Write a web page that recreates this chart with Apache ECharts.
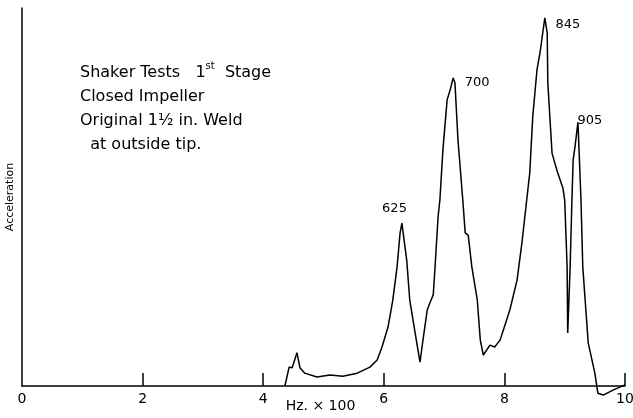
<!DOCTYPE html>
<html>
<head>
<meta charset="utf-8">
<script src="https://cdn.jsdelivr.net/npm/echarts@6/dist/echarts.min.js"></script>
<style>
  html, body { margin: 0; padding: 0; background: #fff; }
  #chart { width: 633px; height: 418px; }
</style>
</head>
<body>
<div id="chart"></div>
<script>
// frequency in Hz x 100
var freq = [4.36, 4.43, 4.48, 4.56, 4.61, 4.69, 4.89, 5.11, 5.32, 5.56, 5.77, 5.89, 5.97,
  6.07, 6.15, 6.22, 6.27, 6.30, 6.33, 6.38, 6.43, 6.52, 6.60, 6.65, 6.72, 6.77, 6.82, 6.85,
  6.90, 6.93, 6.98, 7.05, 7.10, 7.15, 7.18, 7.23, 7.31, 7.35, 7.40, 7.46, 7.55, 7.60, 7.65,
  7.76, 7.84, 7.93, 8.09, 8.21, 8.29, 8.37, 8.42, 8.47, 8.54, 8.59, 8.67, 8.71, 8.72, 8.79,
  8.87, 8.97, 9.00, 9.04, 9.05, 9.09, 9.12, 9.14, 9.17, 9.22, 9.27, 9.30, 9.39, 9.50, 9.55,
  9.64, 9.80, 10.0];
// acceleration, arbitrary units (0 = axis, 100 = top of axis)
var accel = [0, 5.0, 4.8, 8.8, 4.8, 3.4, 2.4, 2.9, 2.6, 3.4, 5.0, 6.9, 10.3,
  15.6, 22.8, 31.5, 40.5, 43.1, 43.1, 33.3, 22.8, 14.0, 6.3, 12.2, 20.1, 22.2, 24.1, 31.5,
  44.7, 49.2, 62.4, 75.7, 78.3, 81.5, 80.2, 65.1, 49.2, 40.5, 39.9, 31.5, 22.8, 12.2, 8.2,
  10.8, 10.3, 12.2, 20.1, 28.0, 37.8, 49.2, 56.3, 71.2, 83.6, 88.1, 97.4, 93.4, 80.2, 61.6,
  57.1, 52.4, 49.2, 31.5, 14.0, 31.5, 49.2, 59.8, 63.2, 69.8, 49.2, 31.5, 11.4, 3.4, -1.9,
  -2.4, -1.1, 0.3];
var peakNames = ['625', '700', '845', '905'];
var peakX = [6.31, 7.15, 8.67, 9.22];
var peakY = [43.1, 81.5, 97.4, 69.8];
var xTicks = [0, 2, 4, 6, 8, 10];
var noteLines = ['Shaker Tests   1{s|st}  Stage', 'Closed Impeller', 'Original 1½ in. Weld', '  at outside tip.'];

var font = '"DejaVu Sans", sans-serif';
var chart = echarts.init(document.getElementById('chart'));

var pts = freq.map(function (f, i) { return [f, accel[i]]; });
var peakLabelOffsets = [[-8, -14], [24, 5], [23, 7], [12, -2]];

var option = {
  backgroundColor: '#fff',
  animation: false,
  grid: { left: 22, right: 8, top: 8, bottom: 32, outerBoundsMode: 'none', containLabel: false },
  xAxis: {
    type: 'value',
    min: 0,
    max: 10,
    interval: 2,
    name: 'Hz. × 100',
    nameLocation: 'middle',
    nameGap: 13,
    nameMoveOverlap: false,
    nameTextStyle: { color: '#000', fontSize: 14, fontFamily: font, padding: [0, 6, 0, 0] },
    axisLine: { lineStyle: { color: '#000', width: 1.5 } },
    axisTick: {
      inside: true, length: 13, customValues: xTicks.slice(1),
      lineStyle: { color: '#000', width: 1.5 }
    },
    axisLabel: {
      color: '#000', fontSize: 14, fontFamily: font, margin: 6,
      formatter: function (v) { return xTicks.indexOf(v) >= 0 ? String(v) : ''; }
    },
    splitLine: { show: false }
  },
  yAxis: {
    type: 'value',
    min: 0,
    max: 100,
    name: 'Acceleration',
    nameLocation: 'middle',
    nameRotate: 90,
    nameGap: 6,
    nameMoveOverlap: false,
    nameTextStyle: { color: '#000', fontSize: 11, fontFamily: font },
    axisLine: { show: true, lineStyle: { color: '#000', width: 1.5 } },
    axisTick: { show: false },
    axisLabel: { show: false },
    splitLine: { show: false }
  },
  graphic: [{
    type: 'text',
    left: 80,
    top: 61,
    style: {
      text: noteLines.join('\n'),
      fill: '#000',
      font: '16px ' + font,
      lineHeight: 24,
      rich: { s: { fontSize: 10, verticalAlign: 'top', fill: '#000', fontFamily: font } }
    }
  }],
  series: [{
    type: 'line',
    data: pts,
    showSymbol: false,
    smooth: false,
    clip: false,
    lineStyle: { color: '#000', width: 1.5 },
    markPoint: {
      symbol: 'circle',
      symbolSize: 0,
      data: peakNames.map(function (n, i) {
        return {
          coord: [peakX[i], peakY[i]],
          label: {
            show: true, formatter: n, color: '#000', fontSize: 13, fontFamily: font,
            offset: peakLabelOffsets[i]
          }
        };
      })
    }
  }]
};

chart.setOption(option);
</script>
</body>
</html>
